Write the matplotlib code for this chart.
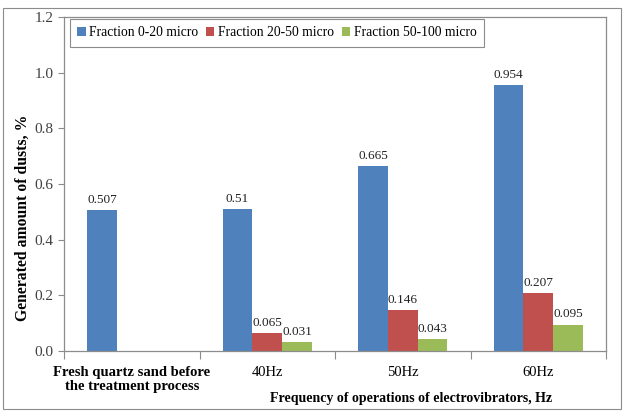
import matplotlib
matplotlib.use("Agg")
import matplotlib.pyplot as plt
import numpy as np
from matplotlib.patches import Rectangle

plt.rcParams['font.family'] = 'Liberation Serif'

# data
categories = ["Fresh quartz sand before\nthe treatment process", "40Hz", "50Hz", "60Hz"]
fine = [0.507, 0.51, 0.665, 0.954]
medium = [np.nan, 0.065, 0.146, 0.207]
coarse = [np.nan, 0.031, 0.043, 0.095]
series_names = ["Fraction 0-20 micro", "Fraction 20-50 micro", "Fraction 50-100 micro"]
colors = ["#4F81BD", "#C0504D", "#9BBB59"]

W, H = 625, 412
fig = plt.figure(figsize=(W / 100, H / 100), dpi=100)
ax = fig.add_axes([64 / W, 1 - 351 / H, (606 - 64) / W, (351 - 17) / H])

# outer chart border
fig.patches.append(Rectangle((3 / W, 3 / H), 618 / W, 401 / H, transform=fig.transFigure,
                             fill=False, edgecolor="#8c8c8c", linewidth=0.8))

x = np.arange(len(categories))
bw = 0.22
for i, (vals, name, col) in enumerate(zip([fine, medium, coarse], series_names, colors)):
    pos = x + (i - 1) * bw
    ax.bar(pos, vals, width=bw, color=col, label=name, zorder=2)
    for p, v in zip(pos, vals):
        if not np.isnan(v):
            ax.annotate(f"{v:g}", (p, v), xytext=(0, 3), textcoords="offset points",
                        ha="center", va="bottom", fontsize=9.5, color="#222222")

ax.set_xlim(-0.5, 3.5)
ax.set_ylim(0, 1.2)
ax.set_yticks(np.arange(0, 1.21, 0.2))
ax.set_yticklabels([f"{t:.1f}" for t in np.arange(0, 1.21, 0.2)])

# group boundaries as ticks, labels at centres
ax.set_xticks(np.arange(-0.5, 3.6, 1.0))
ax.set_xticklabels([])
ax.set_xticks(x, minor=True)
ax.set_xticklabels(categories, minor=True, linespacing=1.05)
ax.tick_params(axis="x", which="major", length=6, color="#8c8c8c", direction="out")
ax.tick_params(axis="x", which="minor", length=0, pad=11, labelsize=10.5)
ax.get_xticklabels(minor=True)[0].set_fontweight("bold")
ax.tick_params(axis="y", length=4, color="#8c8c8c", labelsize=11, labelcolor="#404040")

for s in ax.spines.values():
    s.set_color("#8c8c8c")
    s.set_linewidth(0.9)

ax.set_ylabel("Generated amount of dusts, %", fontsize=11.3, fontweight="bold")
ax.yaxis.set_label_coords(-0.062, 0.40)
ax.set_xlabel("Frequency of operations of electrovibrators, Hz", fontsize=10,
              fontweight="bold")
ax.xaxis.set_label_coords(0.64, -0.123)

leg = ax.legend(loc="upper left", bbox_to_anchor=(0.011, 0.994), borderaxespad=0,
                ncol=3, fontsize=9.8, handlelength=0.6, handleheight=0.6,
                handletextpad=0.25, columnspacing=0.6,
                fancybox=False, borderpad=0.55, framealpha=1)
leg.get_frame().set_edgecolor("#8c8c8c")
leg.get_frame().set_linewidth(0.8)

fig.savefig("out.png", dpi=100)
